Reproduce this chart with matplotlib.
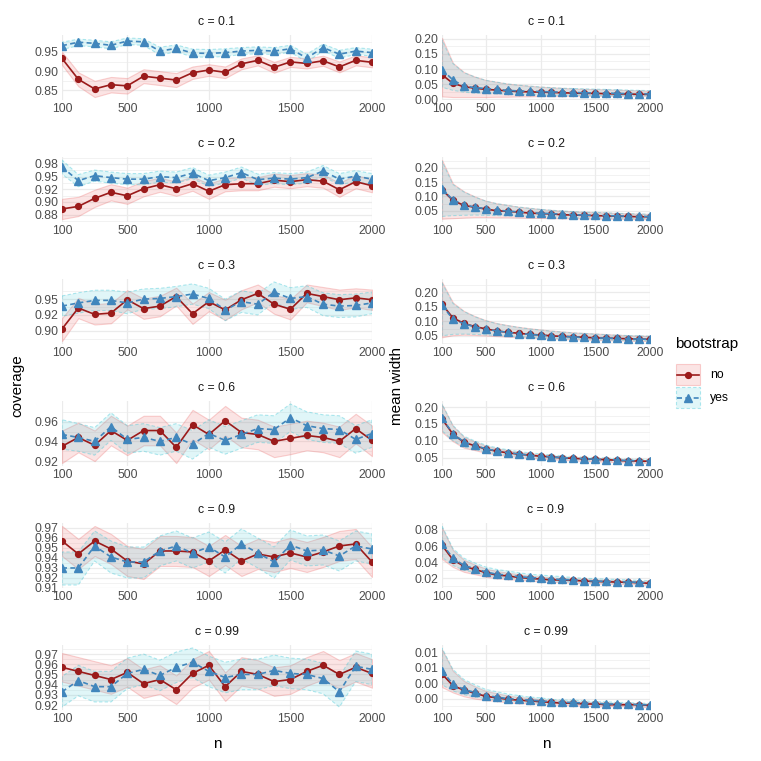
import matplotlib
matplotlib.use("Agg")
import matplotlib.pyplot as plt
from matplotlib.patches import Rectangle
from matplotlib.lines import Line2D

plt.rcParams['font.family'] = ['Liberation Sans', 'DejaVu Sans']

# ---------------- data ----------------
n_vals = [100, 200, 300, 400, 500, 600, 700, 800, 900, 1000,
          1100, 1200, 1300, 1400, 1500, 1600, 1700, 1800, 1900, 2000]
x_ticks = [100, 500, 1000, 1500, 2000]
c_labels = ["c = 0.1", "c = 0.2", "c = 0.3", "c = 0.6", "c = 0.9", "c = 0.99"]

# coverage, bootstrap = no
cov_no_mean = [
    [0.933, 0.879, 0.854, 0.865, 0.862, 0.887, 0.882, 0.877, 0.896, 0.903, 0.897, 0.919, 0.928, 0.910, 0.924, 0.920, 0.927, 0.911, 0.928, 0.923],
    [0.886, 0.891, 0.907, 0.919, 0.912, 0.926, 0.934, 0.926, 0.936, 0.921, 0.934, 0.936, 0.936, 0.943, 0.940, 0.944, 0.941, 0.924, 0.940, 0.932],
    [0.903, 0.936, 0.926, 0.928, 0.949, 0.935, 0.939, 0.954, 0.927, 0.946, 0.933, 0.949, 0.959, 0.942, 0.934, 0.959, 0.954, 0.949, 0.952, 0.949],
    [0.935, 0.944, 0.936, 0.951, 0.941, 0.951, 0.951, 0.934, 0.957, 0.947, 0.961, 0.949, 0.947, 0.940, 0.943, 0.946, 0.944, 0.940, 0.953, 0.941],
    [0.957, 0.944, 0.957, 0.949, 0.937, 0.934, 0.947, 0.947, 0.946, 0.937, 0.948, 0.937, 0.944, 0.941, 0.945, 0.941, 0.946, 0.952, 0.954, 0.936],
    [0.957, 0.953, 0.949, 0.945, 0.952, 0.941, 0.945, 0.935, 0.951, 0.959, 0.938, 0.953, 0.950, 0.943, 0.945, 0.953, 0.959, 0.950, 0.957, 0.951],
]
cov_no_lo = [
    [0.916, 0.861, 0.833, 0.845, 0.842, 0.869, 0.864, 0.859, 0.880, 0.888, 0.882, 0.905, 0.915, 0.896, 0.911, 0.907, 0.914, 0.897, 0.915, 0.910],
    [0.866, 0.872, 0.890, 0.903, 0.896, 0.911, 0.920, 0.912, 0.922, 0.906, 0.921, 0.923, 0.923, 0.930, 0.927, 0.931, 0.928, 0.910, 0.927, 0.919],
    [0.884, 0.920, 0.910, 0.912, 0.934, 0.919, 0.923, 0.940, 0.911, 0.931, 0.917, 0.934, 0.945, 0.927, 0.918, 0.945, 0.939, 0.933, 0.937, 0.933],
    [0.918, 0.929, 0.920, 0.936, 0.926, 0.936, 0.936, 0.918, 0.942, 0.932, 0.946, 0.934, 0.932, 0.924, 0.927, 0.931, 0.929, 0.924, 0.938, 0.925],
    [0.942, 0.929, 0.942, 0.934, 0.922, 0.919, 0.932, 0.932, 0.931, 0.922, 0.933, 0.922, 0.929, 0.926, 0.930, 0.926, 0.931, 0.937, 0.939, 0.921],
    [0.943, 0.939, 0.935, 0.931, 0.938, 0.927, 0.931, 0.921, 0.937, 0.945, 0.924, 0.939, 0.936, 0.929, 0.931, 0.939, 0.945, 0.936, 0.943, 0.937],
]
cov_no_hi = [
    [0.950, 0.897, 0.875, 0.885, 0.882, 0.905, 0.900, 0.895, 0.912, 0.918, 0.912, 0.933, 0.941, 0.924, 0.937, 0.933, 0.940, 0.925, 0.941, 0.936],
    [0.906, 0.910, 0.924, 0.935, 0.928, 0.941, 0.948, 0.940, 0.950, 0.936, 0.947, 0.949, 0.949, 0.956, 0.953, 0.957, 0.954, 0.938, 0.953, 0.945],
    [0.920, 0.952, 0.942, 0.944, 0.964, 0.951, 0.955, 0.968, 0.943, 0.961, 0.949, 0.964, 0.973, 0.957, 0.950, 0.973, 0.969, 0.965, 0.967, 0.965],
    [0.951, 0.959, 0.951, 0.966, 0.956, 0.966, 0.966, 0.949, 0.972, 0.962, 0.976, 0.964, 0.962, 0.955, 0.958, 0.961, 0.959, 0.955, 0.968, 0.956],
    [0.972, 0.959, 0.972, 0.964, 0.952, 0.949, 0.962, 0.962, 0.961, 0.952, 0.963, 0.952, 0.959, 0.956, 0.960, 0.956, 0.961, 0.967, 0.969, 0.951],
    [0.971, 0.967, 0.963, 0.959, 0.966, 0.955, 0.959, 0.949, 0.965, 0.973, 0.952, 0.967, 0.964, 0.957, 0.959, 0.967, 0.973, 0.964, 0.971, 0.965],
]
# coverage, bootstrap = yes
cov_yes_mean = [
    [0.966, 0.975, 0.972, 0.967, 0.978, 0.976, 0.952, 0.959, 0.947, 0.946, 0.948, 0.952, 0.954, 0.952, 0.958, 0.934, 0.961, 0.944, 0.952, 0.948],
    [0.969, 0.942, 0.952, 0.948, 0.945, 0.945, 0.950, 0.948, 0.957, 0.942, 0.948, 0.958, 0.944, 0.947, 0.945, 0.948, 0.961, 0.945, 0.951, 0.945],
    [0.939, 0.944, 0.948, 0.948, 0.944, 0.950, 0.951, 0.954, 0.958, 0.951, 0.933, 0.946, 0.942, 0.961, 0.951, 0.954, 0.942, 0.939, 0.940, 0.944],
    [0.947, 0.944, 0.940, 0.955, 0.942, 0.944, 0.940, 0.944, 0.937, 0.948, 0.941, 0.947, 0.953, 0.952, 0.964, 0.956, 0.953, 0.952, 0.942, 0.948],
    [0.930, 0.930, 0.952, 0.941, 0.936, 0.936, 0.947, 0.952, 0.945, 0.951, 0.941, 0.954, 0.945, 0.936, 0.953, 0.947, 0.948, 0.942, 0.952, 0.949],
    [0.933, 0.944, 0.938, 0.938, 0.951, 0.955, 0.949, 0.957, 0.962, 0.953, 0.947, 0.950, 0.950, 0.954, 0.951, 0.950, 0.946, 0.933, 0.958, 0.955],
]
cov_yes_lo = [
    [0.956, 0.966, 0.963, 0.958, 0.969, 0.967, 0.942, 0.950, 0.937, 0.936, 0.938, 0.943, 0.945, 0.943, 0.949, 0.924, 0.952, 0.934, 0.943, 0.939],
    [0.955, 0.930, 0.941, 0.937, 0.934, 0.934, 0.939, 0.937, 0.946, 0.931, 0.937, 0.947, 0.933, 0.936, 0.934, 0.937, 0.950, 0.934, 0.940, 0.934],
    [0.923, 0.928, 0.932, 0.932, 0.927, 0.934, 0.935, 0.938, 0.942, 0.935, 0.916, 0.929, 0.925, 0.945, 0.934, 0.937, 0.924, 0.921, 0.922, 0.927],
    [0.932, 0.930, 0.926, 0.941, 0.928, 0.930, 0.926, 0.930, 0.922, 0.934, 0.927, 0.933, 0.939, 0.938, 0.950, 0.942, 0.939, 0.938, 0.928, 0.934],
    [0.913, 0.913, 0.937, 0.925, 0.920, 0.920, 0.932, 0.937, 0.930, 0.936, 0.925, 0.939, 0.930, 0.920, 0.938, 0.932, 0.933, 0.927, 0.937, 0.934],
    [0.918, 0.929, 0.923, 0.923, 0.936, 0.940, 0.934, 0.942, 0.947, 0.938, 0.932, 0.935, 0.935, 0.939, 0.936, 0.935, 0.931, 0.918, 0.943, 0.940],
]
cov_yes_hi = [
    [0.975, 0.983, 0.980, 0.976, 0.986, 0.984, 0.962, 0.968, 0.957, 0.956, 0.958, 0.961, 0.963, 0.961, 0.967, 0.944, 0.970, 0.954, 0.961, 0.957],
    [0.983, 0.954, 0.963, 0.959, 0.956, 0.956, 0.961, 0.959, 0.968, 0.953, 0.959, 0.969, 0.955, 0.958, 0.956, 0.959, 0.972, 0.956, 0.962, 0.956],
    [0.955, 0.960, 0.964, 0.964, 0.961, 0.966, 0.967, 0.970, 0.974, 0.967, 0.950, 0.963, 0.959, 0.977, 0.968, 0.971, 0.960, 0.957, 0.958, 0.961],
    [0.962, 0.958, 0.954, 0.969, 0.956, 0.958, 0.954, 0.958, 0.951, 0.962, 0.955, 0.961, 0.967, 0.966, 0.978, 0.970, 0.967, 0.966, 0.956, 0.962],
    [0.946, 0.946, 0.967, 0.957, 0.951, 0.951, 0.962, 0.967, 0.960, 0.966, 0.956, 0.969, 0.960, 0.951, 0.968, 0.962, 0.963, 0.957, 0.967, 0.964],
    [0.948, 0.959, 0.953, 0.953, 0.966, 0.970, 0.964, 0.972, 0.976, 0.968, 0.962, 0.965, 0.965, 0.969, 0.966, 0.965, 0.961, 0.948, 0.973, 0.970],
]

# mean width, bootstrap = no
wid_no_mean = [
    [0.081, 0.053, 0.042, 0.037, 0.033, 0.031, 0.028, 0.026, 0.025, 0.024, 0.023, 0.022, 0.021, 0.020, 0.020, 0.019, 0.018, 0.018, 0.017, 0.017],
    [0.124, 0.086, 0.069, 0.062, 0.056, 0.050, 0.048, 0.045, 0.042, 0.040, 0.039, 0.036, 0.035, 0.034, 0.033, 0.032, 0.031, 0.030, 0.029, 0.029],
    [0.159, 0.112, 0.093, 0.082, 0.074, 0.067, 0.062, 0.059, 0.055, 0.053, 0.050, 0.048, 0.047, 0.045, 0.043, 0.042, 0.041, 0.040, 0.039, 0.038],
    [0.165, 0.120, 0.096, 0.086, 0.076, 0.070, 0.065, 0.061, 0.058, 0.055, 0.053, 0.050, 0.049, 0.047, 0.046, 0.045, 0.043, 0.041, 0.041, 0.040],
    [0.061, 0.043, 0.035, 0.031, 0.027, 0.024, 0.023, 0.021, 0.020, 0.019, 0.018, 0.0178, 0.0174, 0.0166, 0.016, 0.0157, 0.0153, 0.0149, 0.0145, 0.0137],
    [0.0052, 0.0037, 0.0031, 0.0027, 0.0023, 0.0021, 0.0019, 0.0018, 0.0017, 0.0016, 0.0015, 0.0014, 0.0014, 0.0013, 0.0013, 0.0012, 0.0012, 0.0012, 0.0012, 0.0011],
]
wid_no_lo = [
    [0.010, 0.008, 0.008, 0.008, 0.008, 0.009, 0.009, 0.010, 0.010, 0.011, 0.011, 0.011, 0.012, 0.012, 0.012, 0.012, 0.012, 0.012, 0.012, 0.012],
    [0.022, 0.024, 0.026, 0.028, 0.028, 0.027, 0.027, 0.026, 0.025, 0.025, 0.024, 0.024, 0.023, 0.023, 0.022, 0.022, 0.022, 0.021, 0.021, 0.021],
    [0.045, 0.052, 0.054, 0.053, 0.051, 0.049, 0.047, 0.045, 0.043, 0.042, 0.041, 0.039, 0.038, 0.037, 0.036, 0.035, 0.034, 0.033, 0.032, 0.032],
    [0.126, 0.099, 0.080, 0.073, 0.065, 0.060, 0.056, 0.053, 0.050, 0.048, 0.046, 0.044, 0.043, 0.041, 0.040, 0.039, 0.038, 0.036, 0.036, 0.035],
    [0.044, 0.034, 0.028, 0.025, 0.022, 0.020, 0.019, 0.018, 0.017, 0.016, 0.0155, 0.015, 0.0145, 0.014, 0.0135, 0.0133, 0.013, 0.0126, 0.0122, 0.0116],
    [0.0035, 0.0028, 0.0023, 0.0020, 0.0018, 0.0017, 0.0015, 0.0014, 0.0014, 0.0013, 0.0012, 0.0012, 0.0011, 0.0011, 0.0010, 0.0010, 0.0010, 0.0010, 0.0009, 0.0009],
]
wid_no_hi = [
    [0.202, 0.120, 0.090, 0.075, 0.064, 0.058, 0.052, 0.048, 0.045, 0.042, 0.040, 0.038, 0.036, 0.035, 0.034, 0.033, 0.032, 0.031, 0.030, 0.029],
    [0.228, 0.145, 0.118, 0.100, 0.085, 0.076, 0.070, 0.064, 0.060, 0.056, 0.053, 0.050, 0.048, 0.046, 0.045, 0.044, 0.042, 0.041, 0.040, 0.039],
    [0.236, 0.165, 0.136, 0.118, 0.104, 0.094, 0.087, 0.081, 0.076, 0.072, 0.068, 0.065, 0.062, 0.060, 0.058, 0.056, 0.054, 0.052, 0.051, 0.050],
    [0.207, 0.144, 0.112, 0.098, 0.086, 0.078, 0.072, 0.067, 0.063, 0.060, 0.057, 0.054, 0.052, 0.050, 0.049, 0.048, 0.046, 0.044, 0.044, 0.043],
    [0.083, 0.055, 0.043, 0.037, 0.032, 0.029, 0.027, 0.025, 0.023, 0.022, 0.021, 0.020, 0.0195, 0.019, 0.0185, 0.018, 0.0175, 0.017, 0.0165, 0.016],
    [0.0084, 0.0056, 0.0043, 0.0036, 0.0030, 0.0027, 0.0024, 0.0022, 0.0021, 0.0019, 0.0018, 0.0017, 0.0016, 0.0016, 0.0015, 0.0015, 0.0014, 0.0014, 0.0014, 0.0013],
]
# mean width, bootstrap = yes
wid_yes_mean = [
    [0.098, 0.064, 0.044, 0.039, 0.036, 0.033, 0.030, 0.028, 0.027, 0.026, 0.025, 0.024, 0.023, 0.022, 0.021, 0.021, 0.020, 0.019, 0.019, 0.018],
    [0.127, 0.088, 0.071, 0.063, 0.057, 0.052, 0.049, 0.046, 0.043, 0.041, 0.040, 0.038, 0.036, 0.035, 0.034, 0.033, 0.032, 0.031, 0.030, 0.030],
    [0.156, 0.107, 0.092, 0.081, 0.073, 0.067, 0.062, 0.058, 0.055, 0.052, 0.050, 0.048, 0.046, 0.045, 0.043, 0.042, 0.041, 0.040, 0.039, 0.038],
    [0.167, 0.122, 0.097, 0.087, 0.077, 0.071, 0.066, 0.062, 0.058, 0.055, 0.053, 0.051, 0.049, 0.048, 0.046, 0.045, 0.044, 0.042, 0.042, 0.041],
    [0.063, 0.045, 0.036, 0.032, 0.028, 0.025, 0.024, 0.022, 0.021, 0.020, 0.019, 0.0185, 0.018, 0.0172, 0.0166, 0.0162, 0.0158, 0.0154, 0.015, 0.0145],
    [0.0056, 0.0039, 0.0032, 0.0028, 0.0024, 0.0022, 0.0020, 0.0019, 0.0018, 0.0017, 0.0016, 0.0015, 0.0015, 0.0014, 0.0014, 0.0013, 0.0013, 0.0013, 0.0012, 0.0012],
]
wid_yes_lo = [
    [0.040, 0.030, 0.024, 0.021, 0.019, 0.018, 0.017, 0.016, 0.015, 0.015, 0.014, 0.014, 0.014, 0.013, 0.013, 0.013, 0.013, 0.013, 0.013, 0.012],
    [0.030, 0.033, 0.034, 0.035, 0.034, 0.033, 0.032, 0.031, 0.030, 0.029, 0.028, 0.027, 0.026, 0.026, 0.025, 0.025, 0.024, 0.024, 0.023, 0.023],
    [0.050, 0.055, 0.056, 0.055, 0.053, 0.051, 0.049, 0.047, 0.045, 0.044, 0.042, 0.041, 0.040, 0.039, 0.037, 0.036, 0.035, 0.034, 0.033, 0.033],
    [0.130, 0.101, 0.082, 0.075, 0.067, 0.062, 0.058, 0.055, 0.052, 0.050, 0.048, 0.046, 0.045, 0.043, 0.042, 0.041, 0.040, 0.038, 0.038, 0.037],
    [0.046, 0.036, 0.030, 0.027, 0.024, 0.022, 0.021, 0.020, 0.019, 0.018, 0.017, 0.016, 0.0155, 0.015, 0.0145, 0.0142, 0.014, 0.0135, 0.013, 0.0125],
    [0.0038, 0.0030, 0.0025, 0.0022, 0.0020, 0.0018, 0.0017, 0.0016, 0.0015, 0.0014, 0.0013, 0.0013, 0.0012, 0.0012, 0.0011, 0.0011, 0.0011, 0.0010, 0.0010, 0.0010],
]
wid_yes_hi = [
    [0.196, 0.118, 0.088, 0.074, 0.063, 0.057, 0.051, 0.047, 0.044, 0.041, 0.039, 0.037, 0.036, 0.035, 0.034, 0.033, 0.032, 0.031, 0.030, 0.029],
    [0.224, 0.142, 0.116, 0.098, 0.084, 0.075, 0.069, 0.063, 0.059, 0.055, 0.052, 0.049, 0.047, 0.045, 0.044, 0.043, 0.041, 0.040, 0.039, 0.038],
    [0.233, 0.162, 0.134, 0.116, 0.102, 0.092, 0.085, 0.079, 0.074, 0.070, 0.066, 0.063, 0.060, 0.058, 0.056, 0.054, 0.052, 0.051, 0.050, 0.049],
    [0.209, 0.146, 0.114, 0.100, 0.088, 0.080, 0.074, 0.069, 0.065, 0.062, 0.059, 0.056, 0.054, 0.052, 0.051, 0.050, 0.048, 0.046, 0.046, 0.045],
    [0.085, 0.057, 0.045, 0.039, 0.034, 0.031, 0.029, 0.027, 0.025, 0.024, 0.023, 0.022, 0.021, 0.020, 0.0195, 0.019, 0.0185, 0.018, 0.0175, 0.017],
    [0.0086, 0.0058, 0.0045, 0.0038, 0.0032, 0.0029, 0.0026, 0.0024, 0.0022, 0.0021, 0.0019, 0.0018, 0.0018, 0.0017, 0.0016, 0.0016, 0.0015, 0.0015, 0.0014, 0.0014],
]

cov_yticks = [
    [0.85, 0.90, 0.95],
    [0.875, 0.900, 0.925, 0.950, 0.975],
    [0.900, 0.925, 0.950],
    [0.92, 0.94, 0.96],
    [0.91, 0.92, 0.93, 0.94, 0.95, 0.96, 0.97],
    [0.92, 0.93, 0.94, 0.95, 0.96, 0.97],
]
cov_ylabels = [
    ["0.85", "0.90", "0.95"],
    ["0.88", "0.90", "0.92", "0.95", "0.98"],
    ["0.90", "0.92", "0.95"],
    ["0.92", "0.94", "0.96"],
    ["0.91", "0.92", "0.93", "0.94", "0.95", "0.96", "0.97"],
    ["0.92", "0.93", "0.94", "0.95", "0.96", "0.97"],
]
wid_yticks = [
    [0.00, 0.05, 0.10, 0.15, 0.20],
    [0.05, 0.10, 0.15, 0.20],
    [0.05, 0.10, 0.15, 0.20],
    [0.05, 0.10, 0.15, 0.20],
    [0.02, 0.04, 0.06, 0.08],
    [0.002, 0.004, 0.006, 0.008],
]
wid_ylabels = [
    ["0.00", "0.05", "0.10", "0.15", "0.20"],
    ["0.05", "0.10", "0.15", "0.20"],
    ["0.05", "0.10", "0.15", "0.20"],
    ["0.05", "0.10", "0.15", "0.20"],
    ["0.02", "0.04", "0.06", "0.08"],
    ["0.00", "0.00", "0.01", "0.01"],
]

# ---------------- style ----------------
RED = "#9B1B1B"
BLUE = "#4186BC"
RED_FILL = (0.93, 0.42, 0.42, 0.18)
RED_EDGE = (0.93, 0.42, 0.42, 0.30)
BLUE_FILL = (0.25, 0.78, 0.84, 0.16)
BLUE_EDGE = (0.25, 0.78, 0.84, 0.40)
GRID = "#EBEBEB"
TICK_COL = "#4D4D4D"
SMALL = 8.8

W = H = 761
fig = plt.figure(figsize=(7.61, 7.61), dpi=100)


def px_ax(x0, y0, x1, y1):
    return fig.add_axes([x0 / W, 1 - y1 / H, (x1 - x0) / W, (y1 - y0) / H])


def draw_panel(ax, m_no, lo_no, hi_no, m_yes, lo_yes, hi_yes, yt, yl, title):
    ax.fill_between(n_vals, lo_no, hi_no, facecolor=RED_FILL, edgecolor=RED_EDGE, lw=0.8, zorder=2)
    ax.fill_between(n_vals, lo_yes, hi_yes, facecolor=BLUE_FILL, edgecolor=BLUE_EDGE, lw=0.8,
                    linestyle=(0, (3, 2)), zorder=2)
    ax.plot(n_vals, m_no, color=RED, lw=1.2, marker="o", ms=4.2, zorder=3)
    ax.plot(n_vals, m_yes, color=BLUE, lw=1.2, ls=(0, (3, 2)), marker="^", ms=5.8, zorder=4)

    lo = min(min(lo_no), min(lo_yes), min(m_no), min(m_yes))
    hi = max(max(hi_no), max(hi_yes), max(m_no), max(m_yes))
    pad = (hi - lo) * 0.05
    ax.set_ylim(lo - pad, hi + pad)
    ax.set_xlim(100, 2000)

    ax.set_xticks(x_ticks)
    ax.set_xticklabels([str(v) for v in x_ticks])
    ax.set_yticks(yt)
    ax.set_yticklabels(yl)
    step = yt[1] - yt[0]
    minors = [yt[0] - step / 2] + [(a + b) / 2 for a, b in zip(yt[:-1], yt[1:])] + [yt[-1] + step / 2]
    minors = [v for v in minors if lo - pad <= v <= hi + pad]
    ax.set_yticks(minors, minor=True)

    ax.grid(which="major", color=GRID, lw=0.9, zorder=0)
    ax.grid(which="minor", axis="y", color=GRID, lw=0.45, zorder=0)
    ax.set_axisbelow(True)
    for s in ax.spines.values():
        s.set_visible(False)
    ax.tick_params(which="both", length=0, labelsize=SMALL, labelcolor=TICK_COL, pad=2.5)
    ax.text(0.5, 1 + 13 / 65, title, transform=ax.transAxes, ha="center", va="center",
            fontsize=SMALL, color="#1A1A1A")


row_tops = [35, 157, 279, 401, 523, 645]
row_h = 65
for i in range(6):
    y0 = row_tops[i]
    axl = px_ax(62, y0, 372, y0 + row_h)
    draw_panel(axl, cov_no_mean[i], cov_no_lo[i], cov_no_hi[i],
               cov_yes_mean[i], cov_yes_lo[i], cov_yes_hi[i],
               cov_yticks[i], cov_ylabels[i], c_labels[i])
    axr = px_ax(442, y0, 650, y0 + row_h)
    draw_panel(axr, wid_no_mean[i], wid_no_lo[i], wid_no_hi[i],
               wid_yes_mean[i], wid_yes_lo[i], wid_yes_hi[i],
               wid_yticks[i], wid_ylabels[i], c_labels[i])

# axis titles
fig.text(17 / W, 1 - 386 / H, "coverage", rotation=90, ha="center", va="center", fontsize=11)
fig.text(397 / W, 1 - 386 / H, "mean width", rotation=90, ha="center", va="center", fontsize=11)
fig.text(217 / W, 1 - 744 / H, "n", ha="center", va="center", fontsize=11)
fig.text(546 / W, 1 - 744 / H, "n", ha="center", va="center", fontsize=11)

# legend
lg = px_ax(665, 325, 761, 420)
lg.set_xlim(665, 761)
lg.set_ylim(420, 325)
lg.axis("off")
lg.text(675, 344, "bootstrap", ha="left", va="center", fontsize=11)
keys = [("no", 364, RED, RED_FILL, RED_EDGE, "-", "o", 4.2),
        ("yes", 387, BLUE, BLUE_FILL, BLUE_EDGE, (0, (3, 2)), "^", 5.8)]
for lab, ky, col, fc, ec, ls, mk, ms in keys:
    lg.add_patch(Rectangle((676, ky), 24, 21, facecolor=fc, edgecolor=ec, lw=0.8,
                           linestyle=ls))
    lg.add_line(Line2D([677, 699], [ky + 10.5, ky + 10.5], color=col, lw=1.2, ls=ls))
    lg.add_line(Line2D([688], [ky + 10.5], color=col, marker=mk, ms=ms, ls="none"))
    lg.text(710, ky + 10.5, lab, ha="left", va="center", fontsize=SMALL)

fig.savefig("out.png", dpi=100, facecolor="white")
